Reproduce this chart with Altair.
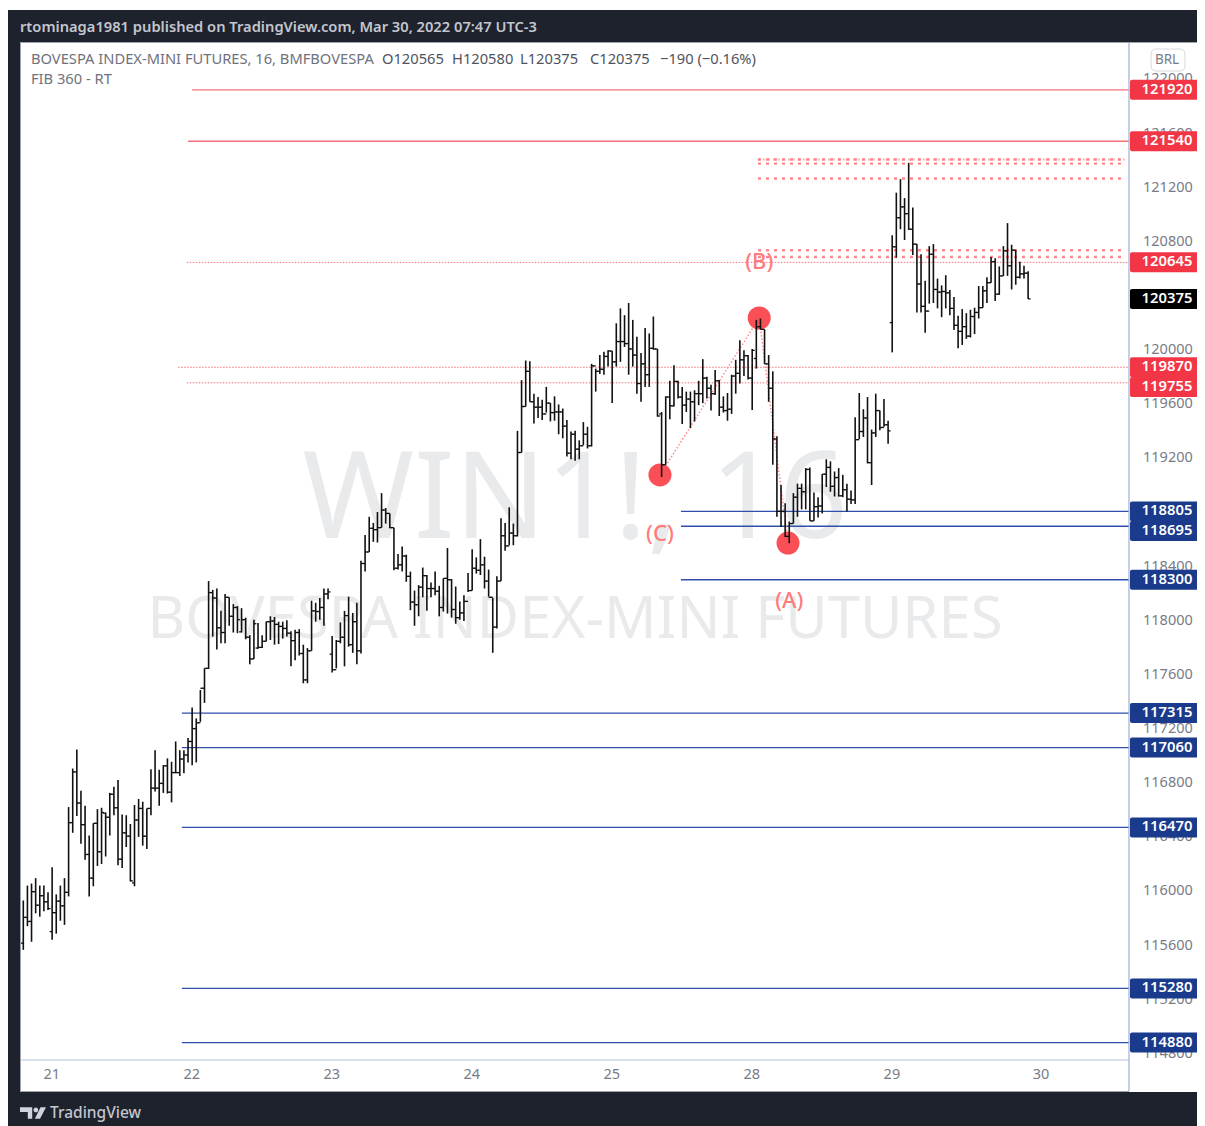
import altair as alt

bar_open = [115615,115805,115775,115995,115895,115965,115920,115700,115840,115925,115890,115990,116505,116880,116650,116490,116270,116095,116500,116290,116575,116545,116715,116615,116235,116430,116405,116060,116525,116610,116405,116610,116760,116760,116795,116925,116730,116875,116875,116975,117005,
117105,117200,117243,117498,117645,118205,118165,117945,117910,118170,118030,118095,117915,118005,117875,117715,117795,117800,117845,117990,117995,117970,117955,117940,117905,117850,117910,117755,117560,117775,118070,118065,118095,118195,
117750,117635,117845,117875,118035,117820,117990,117775,118420,118505,118680,118670,118685,118815,118790,118685,118385,118410,118475,118325,118135,118115,118245,118330,118235,118235,118215,118095,118310,118300,118080,118020,118055,118140,118220,118385,118370,118410,118290,118170,117950,118290,118625,118550,118645,
118625,119240,119580,119840,119615,119575,119575,119525,119605,119535,119540,119540,119435,119235,119375,119265,119290,119375,119290,119880,119840,119855,119950,119990,119910,120060,120060,120045,120005,119960,119750,119895,119815,120010,120005,119525,119150,119650,119585,119765,119650,119590,119635,119615,119675,119675,119790,119715,119675,119770,119575,119550,119560,119805,119825,119925,119955,119790,119935,120170,120150,119895,119715,119340,
118805,118805,118620,118715,118910,118975,118950,119115,118735,118840,118845,119080,119130,118990,119055,118920,118965,118895,118890,119335,119395,119495,119165,119385,119550,119425,119445,
120200,120760,120975,121055,121005,120890,120780,120485,120320,120285,120705,120445,120425,120430,120420,120305,120180,120135,120170,120100,120245,120275,120310,120435,120495,120650,120410,120545,120730,120620,120735,120535,120560,120565]
bar_high = [115930,116040,116055,116095,116040,116040,115990,116175,115975,116040,116095,116620,116905,117045,116740,116630,116410,116500,116605,116615,116580,116725,116770,116820,116565,116560,116495,116635,116680,116660,116610,116900,117040,116895,116930,116980,116955,117105,117040,117040,117130,
117355,117275,117485,117645,118290,118225,118235,118070,118195,118170,118120,118105,118090,118020,117890,118005,117980,117890,117990,118030,118025,117990,117990,118000,117920,117930,117935,117820,117795,118145,118130,118165,118235,118235,
117885,117855,117985,118070,118175,118055,118130,118440,118630,118765,118720,118800,118940,118830,118790,118685,118490,118545,118485,118360,118220,118260,118390,118335,118280,118360,118255,118310,118535,118305,118250,118140,118185,118350,118525,118465,118600,118470,118375,118165,118325,118755,118720,118835,118715,
119400,119775,119920,119915,119675,119650,119630,119725,119605,119655,119595,119565,119480,119395,119400,119330,119465,119430,119895,119860,119960,119985,119995,119990,120195,120305,120255,120345,120220,120095,119975,120160,120120,120245,120005,119540,119655,119770,119885,119770,119725,119690,119690,119700,119770,119930,119800,119740,119850,119775,119655,119680,119815,119925,120070,119995,119960,120005,120220,120230,120150,119960,119840,119360,
119000,118865,118730,118940,119010,119010,119125,119130,118945,118910,119080,119190,119175,119100,119125,119075,119010,118960,119500,119680,119560,119650,119410,119675,119550,119635,119475,
120845,121160,121260,121120,121380,121050,120780,120705,120510,120765,120780,120525,120475,120550,120440,120390,120250,120300,120270,120295,120310,120470,120470,120535,120685,120675,120615,120765,120935,120775,120735,120650,120620,120580]
bar_low = [115565,115740,115625,115835,115810,115850,115860,115640,115685,115780,115750,115960,116430,116555,116350,116230,115960,116035,116185,116200,116255,116410,116560,116190,116170,116325,116070,116035,116400,116335,116310,116560,116735,116630,116725,116720,116655,116870,116850,116870,116950,
116930,116950,117250,117390,117640,117880,117785,117830,117830,117960,117910,117905,117910,117860,117675,117715,117790,117795,117845,117855,117820,117825,117865,117880,117660,117705,117740,117535,117535,117775,117990,118005,117960,118155,
117615,117645,117830,117660,117805,117760,117675,117755,118360,118505,118580,118575,118685,118715,118680,118370,118375,118360,118285,118075,117960,118030,118170,118070,118170,118185,118030,118065,118050,118020,117975,118005,117995,118210,118220,118345,118335,118235,118175,117760,117940,118290,118515,118555,118555,
118620,119240,119580,119615,119455,119495,119480,119535,119470,119475,119375,119345,119210,119190,119180,119190,119295,119270,119285,119690,119820,119815,119875,119605,119875,119910,120020,119815,119875,119675,119615,119725,119725,120000,119505,119060,119150,119485,119580,119640,119450,119540,119420,119470,119590,119605,119640,119550,119665,119510,119535,119475,119525,119675,119750,119805,119780,119555,119860,120150,119895,119615,119150,118765,
118690,118615,118570,118715,118765,118820,118820,118735,118735,118760,118790,118985,118950,118915,118915,118910,118805,118860,118860,119340,119355,119160,119000,119355,119405,119430,119305,
119980,120680,120890,120810,120885,120700,120275,120275,120125,120340,120345,120305,120240,120305,120255,120145,120010,120035,120080,120090,120115,120230,120310,120345,120495,120360,120405,120545,120545,120445,120480,120525,120525,120375]
bar_close = [115805,115775,115995,115895,115965,115920,115870,115840,115925,115890,115990,116505,116880,116650,116490,116270,116095,116500,116290,116580,116545,116715,116615,116235,116430,116405,116075,116525,116610,116405,116610,116760,116760,116795,116925,116730,116875,116875,116975,117005,117105,
117200,117243,117498,117645,118205,118165,117945,117910,118170,118030,118095,118005,118005,117875,117715,117975,117800,117845,117990,117995,117970,117955,117940,117905,117850,117910,117755,117560,117775,118070,118065,118095,118195,118210,
117635,117845,117875,118035,117820,117990,117775,118420,118505,118680,118670,118685,118815,118790,118685,118385,118410,118475,118325,118135,118115,118245,118330,118235,118235,118215,118095,118310,118300,118080,118020,118055,118140,118220,118385,118370,118410,118290,118170,117950,118290,118625,118550,118645,118625,
119240,119580,119840,119615,119575,119575,119525,119605,119535,119540,119540,119435,119235,119375,119265,119290,119375,119290,119880,119840,119855,119950,119990,119910,120060,120060,120045,120005,119960,119750,119895,119815,120010,120005,119510,119150,119650,119585,119765,119650,119590,119635,119615,119675,119675,119790,119715,119675,119770,119575,119550,119560,119805,119825,119925,119955,119790,119995,120170,120150,119895,119715,119340,118805,
118805,118620,118715,118910,118975,118950,119115,118735,118840,118845,119080,119130,118990,119055,118920,118965,118895,118890,119335,119395,119495,119165,119385,119550,119425,119445,119400,
120760,120975,121055,121005,120890,120780,120485,120320,120285,120705,120445,120425,120430,120420,120305,120180,120135,120170,120100,120245,120275,120310,120435,120495,120650,120410,120545,120730,120620,120735,120535,120560,120565,120375]

level_solid_red = [121920, 121540]
level_solid_red_from = [41, 40]
level_blue = [118805, 118695, 118300, 117315, 117060, 116470, 115280, 114880]
level_blue_from = [159.7, 159.7, 159.7, 38.5, 38.5, 38.5, 38.5, 38.5]
level_thin = [120645, 119870, 119755]
level_thin_from = [39.7, 37.6, 39.7]
level_thick = [121405, 121375, 121265, 120735, 120685]
swing_idx = [154.6, 178.7, 185.7]
swing_price = [119074, 120234, 118571]
wave_labels = ["(B)", "(C)", "(A)"]
wave_idx = [178.7, 154.6, 186]
wave_price = [120648, 118638, 118143]
tag_text = ["121920","121540","120645","120375","119870","119755","118805","118695","118300","117315","117060","116470","115280","114880"]
tag_price = [121920,121540,120645,120375,119870,119724,118805,118660,118300,117315,117060,116470,115280,114880]
tag_color = ["#f23645","#f23645","#f23645","#000000","#f23645","#f23645","#1a3a8c","#1a3a8c","#1a3a8c","#1a3a8c","#1a3a8c","#1a3a8c","#1a3a8c","#1a3a8c"]
price_ticks = list(range(114800, 122001, 400))
day_ticks = [6.8, 40.8, 74.8, 108.8, 142.8, 176.8, 210.8, 247]
day_labels = ["21","22","23","24","25","28","29","30"]
info_text = ["BOVESPA INDEX-MINI FUTURES, 16, BMFBOVESPA","O120565","H120580","L120375","C120375","\u2212190 (\u22120.16%)"]
info_left = [10, 361, 431, 499, 569, 639]
info_color = ["#6f727c","#50535e","#50535e","#50535e","#50535e","#50535e"]

FONT = "Noto Sans"
X_DOM = [-0.5585, 268.5]
Y_DOM = [114751.2, 122266]
X_END = 268.5
RIGHT = 1176
xs = alt.Scale(domain=X_DOM, nice=False, zero=False)
ys = alt.Scale(domain=Y_DOM, nice=False, zero=False)
x_axis = alt.Axis(
    values=day_ticks,
    labelExpr="[" + ",".join(f"'{d}'" for d in day_labels) + "][indexof(" + str(day_ticks) + ",datum.value)]",
    grid=False, ticks=False, domain=False, labelColor="#787b86", labelFontSize=14.5, labelFont=FONT,
    labelPadding=7, labelOverlap=False, labelFlush=False)
y_axis = alt.Axis(
    orient="right", values=price_ticks, format="d", grid=False, ticks=False, domain=False,
    labelColor="#787b86", labelFontSize=14.5, labelFont=FONT, labelPadding=13.5,
    labelOverlap=False, labelFlush=False)

def X(f):
    return alt.X(f, type="quantitative", scale=xs, axis=x_axis, title=None)
def Y(f):
    return alt.Y(f, type="quantitative", scale=ys, axis=y_axis, title=None)
def D(rows):
    return alt.Data(values=rows)

def box(x1, x2, y1, y2, color):
    return alt.Chart(D([{"a": 1}])).mark_rect(color=color).encode(
        x=alt.value(x1), x2=alt.value(x2), y=alt.value(y1), y2=alt.value(y2))
def label(txt, x, y, size, color, **kw):
    return alt.Chart(D([{"t": txt}])).mark_text(
        font=kw.pop("font", FONT), fontSize=size, color=color, align=kw.pop("align", "left"),
        baseline="middle", **kw).encode(text="t:N", x=alt.value(x), y=alt.value(y))

bars = [{"i": i, "ol": i - 0.6, "cr": i + 0.6, "o": o, "h": h, "l": l, "c": c}
        for i, (o, h, l, c) in enumerate(zip(bar_open, bar_high, bar_low, bar_close))]

def hlines(prices, starts, color, width, dash=None, opacity=1, end=X_END):
    rows = [{"p": p, "a": s, "b": end} for p, s in zip(prices, starts)]
    kw = {"strokeDash": dash} if dash else {}
    return alt.Chart(D(rows)).mark_rule(color=color, strokeWidth=width, opacity=opacity, **kw).encode(
        x=X("a"), x2=alt.X2("b"), y=Y("p"))

swing_rows = [{"i": a, "p": b, "ord": n} for n, (a, b) in enumerate(zip(swing_idx, swing_price))]
diag = alt.Chart(D(swing_rows)).mark_line(color="#ff8a8a", strokeWidth=1.5, strokeDash=[1.5, 2]).encode(
    x=X("i"), y=Y("p"), order="ord:O")
circles = alt.Chart(D(swing_rows)).mark_circle(color="#fb4f58", size=530, opacity=1).encode(x=X("i"), y=Y("p"))

stems = alt.Chart(D(bars)).mark_rule(color="#111111", strokeWidth=1.6).encode(x=X("i"), y=Y("h"), y2=alt.Y2("l"))
opens = alt.Chart(D(bars)).mark_rule(color="#111111", strokeWidth=1.3).encode(x=X("ol"), x2=alt.X2("i"), y=Y("o"))
closes = alt.Chart(D(bars)).mark_rule(color="#111111", strokeWidth=1.3).encode(x=X("i"), x2=alt.X2("cr"), y=Y("c"))

waves = alt.Chart(D([{"t": t, "i": a, "p": b} for t, a, b in zip(wave_labels, wave_idx, wave_price)])).mark_text(
    font=FONT, fontSize=22, fontWeight=500, color="#ff7b7b", baseline="middle").encode(text="t:N", x=X("i"), y=Y("p"))

tag_rows = [{"t": t, "p": p, "k": c} for t, p, c in zip(tag_text, tag_price, tag_color)]
tag_boxes = alt.Chart(D(tag_rows)).mark_rect(height=20, cornerRadius=2).encode(
    x=alt.value(1109), x2=alt.value(1180), y=Y("p"), color=alt.Color("k:N", scale=None))
tag_texts = alt.Chart(D(tag_rows)).mark_text(font=FONT, fontSize=14.8, fontWeight=600, color="white", baseline="middle").encode(
    text="t:N", x=alt.value(1146), y=Y("p"))

brl = alt.Chart(D([{"a": 1}])).mark_rect(fill="white", stroke="#d6d8e0", strokeWidth=1, cornerRadius=5).encode(
    x=alt.value(1130), x2=alt.value(1164), y=alt.value(6), y2=alt.value(28))

info = [label(t, x, 17, 14.7, c) for t, x, c in zip(info_text, info_left, info_color)]

logo_path = ("M-0.5,-0.22 H-0.03 V0.22 H-0.2 V-0.04 H-0.5 Z "
             "M0.02,-0.12 A0.09,0.09 0 1 1 0.2,-0.12 A0.09,0.09 0 1 1 0.02,-0.12 Z "
             "M0.5,-0.22 L0.27,0.22 H0.07 L0.29,-0.22 Z")
logo = alt.Chart(D([{"a": 1}])).mark_point(shape=logo_path, filled=True, color="#d1d4dc", size=2704, opacity=1, strokeWidth=0).encode(
    x=alt.value(12), y=alt.value(1070))

def frame_rule(color, width, **enc):
    return alt.Chart(D([{"a": 1}])).mark_rule(color=color, strokeWidth=width).encode(
        **{k: alt.value(v) for k, v in enc.items()})

layers = [
    label("WIN1!, 16", 554, 459, 120, "#e9eaec", align="center"),
    label("BOVESPA INDEX-MINI FUTURES", 554, 578, 58, "#e9eaec", align="center"),
    hlines(level_thin, level_thin_from, "#f4707b", 1, dash=[1.5, 1.5]),
    hlines(level_thick, [178.4] * 5, "#ff6a70", 2.4, dash=[3, 5], opacity=0.8, end=267.8),
    hlines(level_thick[:1], [178.4], "#ff6a70", 2.2, dash=[2, 3], opacity=0.5, end=267.8),
    hlines(level_solid_red, level_solid_red_from, "#f4707b", 1.4),
    hlines(level_blue, level_blue_from, "#2f50a8", 1.3),
    diag, circles, stems, opens, closes, waves,
    box(-13, -1, -33, 1083, "#1e222d"),
    box(-13, RIGHT, -33, -1, "#1e222d"),
    box(-13, RIGHT, 1049, 1083, "#1e222d"),
    frame_rule("#9fa3ab", 1, x=-1, x2=RIGHT, y=-0.5),
    frame_rule("#9fa3ab", 1, x=-0.5, y=0, y2=1049),
    frame_rule("#9fa3ab", 1, x=-1, x2=1108, y=1048.5),
    frame_rule("#b4c1dd", 1.2, x=0, x2=1108, y=1017),
    frame_rule("#9db0d6", 1.2, x=1108, y=0, y2=1048),
    tag_boxes, tag_texts, brl,
    label("BRL", 1146, 17, 13.5, "#787b86", align="center"),
    *info,
    label("FIB 360 - RT", 10, 37, 14.7, "#6f727c"),
    label("rtominaga1981 published on TradingView.com, Mar 30, 2022 07:47 UTC-3", -1, -15, 14.7, "#c3c6ce", fontWeight=600),
    logo,
    label("TradingView", 29, 1070, 15.5, "#c3c6ce", fontWeight=500),
]

chart = alt.layer(*layers).properties(
    width=1108, height=1017, background="white",
    padding={"left": 13, "top": 35, "right": 68, "bottom": 66},
    autosize=alt.AutoSizeParams(type="none"),
).configure_view(stroke=None)

chart.save("out.html", embed_options={"renderer": "svg", "actions": False})
